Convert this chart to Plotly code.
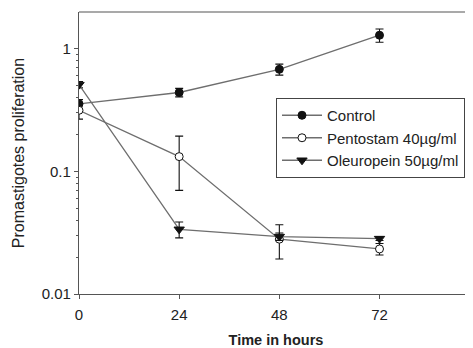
import plotly.graph_objects as go

hours = [0, 24, 48, 72]

control = [0.355, 0.44, 0.68, 1.29]
control_err = [0.03, 0.035, 0.07, 0.16]

pentostam = [0.315, 0.132, 0.028, 0.0233]
pentostam_err = [0.048, 0.062, 0.0087, 0.0025]

oleuropein = [0.51, 0.0337, 0.0294, 0.0283]
oleuropein_err = [0.03, 0.005, 0.002, 0.001]

series_names = ["Control", "Pentostam 40µg/ml", "Oleuropein 50µg/ml"]

y_tickvals = [0.01, 0.1, 1]
y_ticktext = ["0.01", "0.1", "1"]
x_tickvals = [0, 24, 48, 72]

FONT = "Liberation Sans, Arial, sans-serif"
LINE = "#6e6e6e"
AX = "#555555"
TXT = "#222222"

fig = go.Figure()

def add(name, y, err, symbol, fill, size):
    fig.add_trace(go.Scatter(
        x=hours, y=y, name=name, mode="lines+markers",
        line=dict(color=LINE, width=1.3),
        marker=dict(symbol=symbol, size=size, color=fill,
                    line=dict(color="#111111", width=1)),
        error_y=dict(type="data", array=err, color="#111111",
                     thickness=1.1, width=4),
    ))

add(series_names[0], control, control_err, "circle", "#111111", 8)
add(series_names[1], pentostam, pentostam_err, "circle", "white", 8)
add(series_names[2], oleuropein, oleuropein_err, "triangle-down", "#111111", 9)

minor_vals = [m * 10 ** e for e in (-2, -1, 0) for m in range(2, 10)]

# the page body has an 8px margin, so the figure is sized/offset to compensate
fig.update_layout(
    width=465, height=340,
    margin=dict(l=71, r=0, t=4, b=54),
    plot_bgcolor="white", paper_bgcolor="white",
    font=dict(family=FONT, size=15, color=TXT),
    showlegend=True,
    legend=dict(
        x=0.5, y=0.695, xanchor="left", yanchor="top",
        bordercolor="#444444", borderwidth=1, bgcolor="white",
        font=dict(size=15, color=TXT),
        tracegroupgap=0, itemwidth=40,
    ),
    xaxis=dict(
        range=[0, 94.4], tickvals=x_tickvals, automargin=False,
        showline=True, linecolor=AX, linewidth=1.2,
        ticks="outside", ticklen=4, tickcolor=AX, ticklabelstandoff=3,
        showgrid=False, zeroline=False,
        tickfont=dict(size=15, color=TXT),
        title=dict(text="<b>Time in hours</b>", font=dict(size=14.5), standoff=14),
    ),
    yaxis=dict(
        type="log", range=[-2, 0.3], automargin=False,
        tickvals=y_tickvals, ticktext=y_ticktext,
        showline=True, linecolor=AX, linewidth=1.2,
        ticks="outside", ticklen=4, tickcolor=AX,
        showgrid=False, zeroline=False,
        tickfont=dict(size=15, color=TXT),
        minor=dict(tickvals=minor_vals, ticks="outside", ticklen=2,
                   tickcolor=AX, showgrid=False),
        title=dict(text="Promastigotes proliferation", font=dict(size=16), standoff=13),
    ),
    shapes=[dict(type="line", xref="paper", yref="paper", x0=0, x1=1, y0=1, y1=1,
                 line=dict(color=AX, width=1.2))],
)

fig.write_html("out.html")
